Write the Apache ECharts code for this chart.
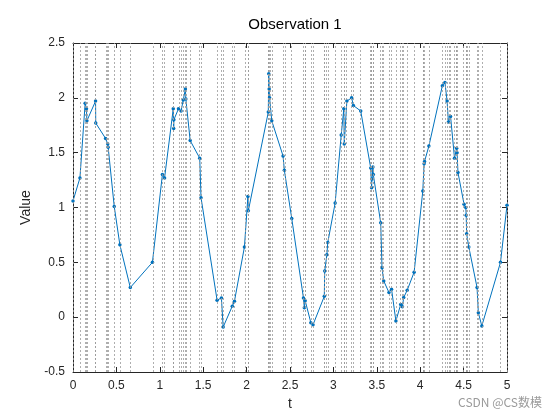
<!DOCTYPE html>
<html>
<head>
<meta charset="utf-8">
<script src="https://cdn.jsdelivr.net/npm/echarts@6/dist/echarts.min.js"></script>
<style>html,body{margin:0;padding:0;background:#fff}#c{width:560px;height:420px}</style>
</head>
<body>
<div id="c"></div>
<script>
const titleText = 'Observation 1';
const xName = 't';
const yName = 'Value';
const xTicks = [0, 0.5, 1, 1.5, 2, 2.5, 3, 3.5, 4, 4.5, 5];
const yTicks = [-0.5, 0, 0.5, 1, 1.5, 2, 2.5];
const tValues = [0, 0.08, 0.14, 0.155, 0.16, 0.26, 0.262, 0.375, 0.40, 0.405, 0.475, 0.54, 0.66, 0.915,
  1.03, 1.055, 1.155, 1.16, 1.162, 1.215, 1.245, 1.27, 1.295, 1.30, 1.35, 1.46, 1.475, 1.66, 1.71, 1.73,
  1.835, 1.86, 1.975, 2.015, 2.02, 2.25, 2.255, 2.26, 2.265, 2.29, 2.42, 2.435, 2.52, 2.655, 2.665, 2.675,
  2.74, 2.765, 2.895, 2.90, 2.925, 2.935, 3.02, 3.09, 3.12, 3.125, 3.155, 3.21, 3.23, 3.315, 3.43, 3.44,
  3.445, 3.455, 3.46, 3.545, 3.56, 3.58, 3.64, 3.67, 3.72, 3.775, 3.795, 3.81, 3.85, 3.93, 4.03, 4.045,
  4.05, 4.10, 4.255, 4.285, 4.31, 4.325, 4.35, 4.395, 4.42, 4.425, 4.435, 4.505, 4.525, 4.53, 4.535, 4.56,
  4.655, 4.67, 4.71, 4.925, 5.0];
const yValues = [1.06, 1.27, 1.95, 1.90, 1.79, 1.97, 1.77, 1.63, 1.58, 1.55, 1.01, 0.66, 0.27, 0.50,
  1.30, 1.27, 1.90, 1.72, 1.80, 1.90, 1.88, 1.98, 2.08, 1.99, 1.61, 1.45, 1.09, 0.155, 0.175, -0.09,
  0.10, 0.145, 0.64, 1.10, 0.97, 1.87, 2.22, 2.08, 2.00, 1.79, 1.47, 1.34, 0.90, 0.175, 0.085, 0.15,
  -0.05, -0.07, 0.19, 0.42, 0.57, 0.68, 1.04, 1.66, 1.90, 1.58, 1.97, 2.00, 1.93, 1.88, 1.36, 1.18,
  1.26, 1.37, 1.30, 0.86, 0.45, 0.33, 0.225, 0.255, -0.035, 0.115, 0.095, 0.18, 0.245, 0.41, 1.15, 1.40,
  1.42, 1.56, 2.11, 2.14, 1.97, 1.78, 1.83, 1.45, 1.54, 1.50, 1.32, 1.03, 1.00, 0.93, 0.76, 0.64,
  0.27, 0.04, -0.08, 0.50, 1.02];
const obsTimes = tValues;

const axisColor = '#262626';
const font = 'Liberation Sans, Arial, sans-serif';
const chart = echarts.init(document.getElementById('c'), null, {renderer: 'canvas'});
const baseX = {type: 'value', min: xTicks[0], max: xTicks[xTicks.length - 1], interval: xTicks[1] - xTicks[0]};
const baseY = {type: 'value', min: yTicks[0], max: yTicks[yTicks.length - 1], interval: yTicks[1] - yTicks[0]};
chart.setOption({
  animation: false,
  title: {text: titleText, left: 290, top: 12, textAlign: 'center',
    textStyle: {fontFamily: font, fontSize: 15, fontWeight: 'normal', color: '#000'}},
  grid: {left: 73, right: 53, top: 43, bottom: 48},
  xAxis: [
    Object.assign({}, baseX, {position: 'bottom', name: xName, nameLocation: 'middle', nameGap: 23,
      nameTextStyle: {fontFamily: font, fontSize: 14, color: axisColor},
      axisLine: {onZero: false, lineStyle: {color: axisColor, width: 1}},
      axisTick: {inside: true, length: 5, lineStyle: {color: axisColor}},
      axisLabel: {fontFamily: font, fontSize: 12, color: axisColor, margin: 8},
      splitLine: {show: false}}),
    Object.assign({}, baseX, {position: 'top',
      axisLine: {onZero: false, lineStyle: {color: axisColor, width: 1}},
      axisTick: {inside: true, length: 5, lineStyle: {color: axisColor}},
      axisLabel: {show: false}, splitLine: {show: false}})
  ],
  yAxis: [
    Object.assign({}, baseY, {position: 'left', name: yName, nameLocation: 'middle', nameGap: 32,
      nameTextStyle: {fontFamily: font, fontSize: 14, color: axisColor},
      axisLine: {onZero: false, lineStyle: {color: axisColor, width: 1}},
      axisTick: {inside: true, length: 5, lineStyle: {color: axisColor}},
      axisLabel: {fontFamily: font, fontSize: 12, color: axisColor, margin: 8},
      splitLine: {show: false}}),
    Object.assign({}, baseY, {position: 'right',
      axisLine: {onZero: false, lineStyle: {color: axisColor, width: 1}},
      axisTick: {inside: true, length: 5, lineStyle: {color: axisColor}},
      axisLabel: {show: false}, splitLine: {show: false}})
  ],
  series: [{
    type: 'line',
    data: tValues.map((t, i) => [t, yValues[i]]),
    symbol: 'circle', symbolSize: 3.5, showSymbol: true,
    lineStyle: {color: '#0072BD', width: 1},
    itemStyle: {color: '#0072BD'},
    markLine: {silent: true, symbol: 'none', animation: false, label: {show: false},
      lineStyle: {type: [2, 2], color: '#9a9a9a', width: 0.8},
      data: obsTimes.map(x => ({xAxis: x}))},
    z: 3
  }],
  graphic: [{type: 'text', right: 18, top: 396,
    style: {text: 'CSDN @CS数模', fill: '#9a9a9a', fontSize: 12, fontFamily: 'Noto Sans CJK SC, sans-serif'}}]
});
</script>
</body>
</html>
